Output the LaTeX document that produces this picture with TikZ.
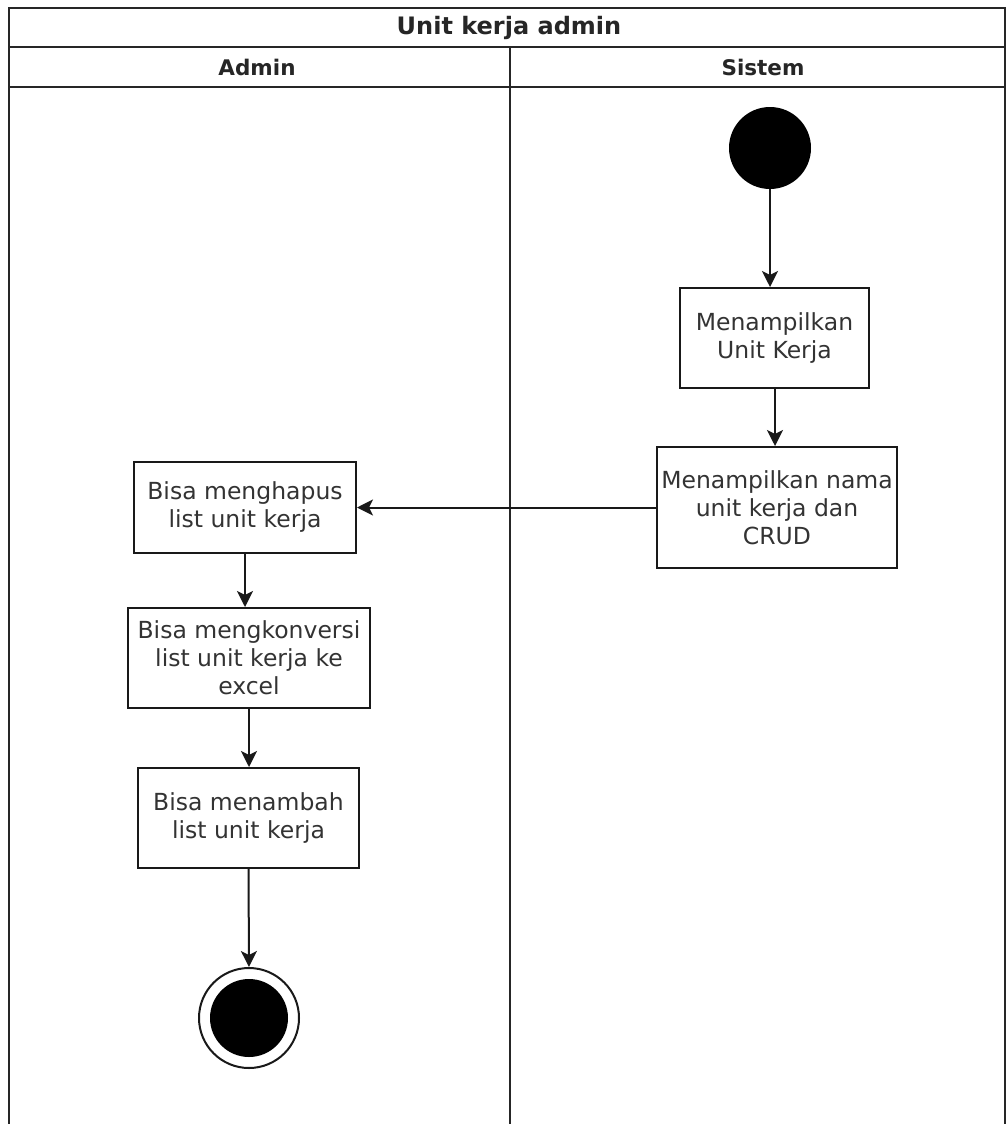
\documentclass[tikz,border=0pt]{standalone}
\usepackage{fontspec}
\setmainfont{DejaVu Sans}
\usetikzlibrary{arrows.meta,shapes.geometric}
\begin{document}
\begin{tikzpicture}[x=1pt,y=-1pt,
  lane/.style={draw=black!85,line width=2pt},
  head/.style={font=\fontsize{21.5}{26}\selectfont\bfseries,text=black!85},
  pooltitle/.style={font=\fontsize{24}{28}\selectfont\bfseries,text=black!85},
  act/.style={draw=black!90,line width=2pt,fill=white,align=center,
    inner sep=0pt,font=\fontsize{23.5}{28}\selectfont,text=black!80},
  flow/.style={draw=black!90,line width=2pt,
    -{Stealth[length=16pt,width=16pt,inset=4pt]}},
  startnode/.style={circle,fill=black,inner sep=0pt,minimum size=82pt},
]
\useasboundingbox (0,0) rectangle (1006,1124);
\fill[white] (0,0) rectangle (1006,1124);

% swimlane pool
\draw[lane] (9,1124) -- (9,8) -- (1005,8) -- (1005,1124);
\draw[lane] (9,47) -- (1005,47);
\draw[lane] (9,87) -- (1005,87);
\draw[lane] (510,47) -- (510,1124);
\node[pooltitle] (title) at (509,28) {Unit kerja admin};
\node[head] (laneA) at (257,67) {Admin};
\node[head] (laneS) at (763,67) {Sistem};

% activities
\node[startnode] (start) at (770,148) {};
\node[act,minimum width=189pt,minimum height=100pt] (m1) at (774.5,338)
  {Menampilkan\\Unit Kerja};
\node[act,minimum width=240pt,minimum height=121pt] (m2) at (777,507.5)
  {Menampilkan nama\\unit kerja dan\\CRUD};
\node[act,minimum width=222pt,minimum height=91pt] (h1) at (245,507.5)
  {Bisa menghapus\\list unit kerja};
\node[act,minimum width=242pt,minimum height=100pt] (k1) at (249,658)
  {Bisa mengkonversi\\list unit kerja ke\\excel};
\node[act,minimum width=221pt,minimum height=100pt] (t1) at (248.5,818)
  {Bisa menambah\\list unit kerja};
\node[circle,draw=black!90,line width=2pt,fill=white,inner sep=0pt,
  minimum size=100pt] (finish) at (249,1018) {};
\node[circle,fill=black,inner sep=0pt,minimum size=78pt] (finishdot)
  at (finish) {};

% control flow
\draw[flow] (start) -- (start|-m1.north);
\draw[flow] (775,388) coordinate (a1) -- (a1|-m2.north);
\draw[flow] (m2.west) -- (h1.east);
\draw[flow] (h1) ++(0,45.5) coordinate (a2) -- (a2|-k1.north);
\draw[flow] (k1.south) -- (k1.south|-t1.north);
\draw[flow] (t1.south) -- (finish.north);
\end{tikzpicture}
\end{document}
